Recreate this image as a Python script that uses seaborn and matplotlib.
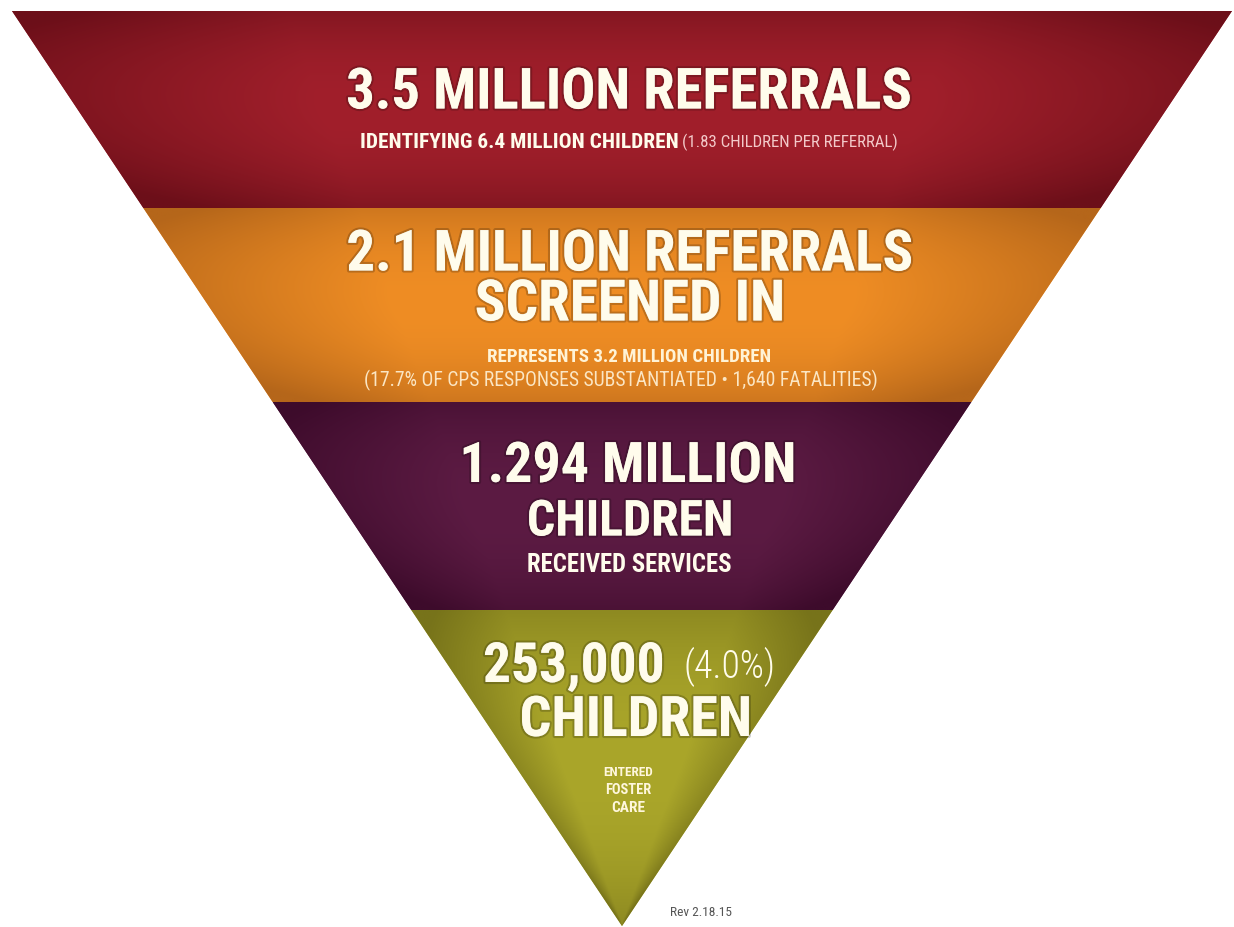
import numpy as np
import matplotlib
matplotlib.use("Agg")
import matplotlib.pyplot as plt
import matplotlib.patheffects as pe
import matplotlib.font_manager as fm
from matplotlib.patches import Polygon
import seaborn as sns

# ---------------- data ----------------
stages = ["Referrals", "Screened in", "Received services", "Entered foster care"]
values_millions = [3.5, 2.1, 1.294, 0.253]
headline_1 = ["3.5 MILLION REFERRALS", "2.1 MILLION REFERRALS", "1.294 MILLION", "253,000"]
headline_2 = ["", "SCREENED IN", "CHILDREN", "CHILDREN"]
sub_bold = ["IDENTIFYING 6.4 MILLION CHILDREN", "REPRESENTS 3.2 MILLION CHILDREN",
            "RECEIVED SERVICES", "ENTERED\nFOSTER\nCARE"]
sub_light = ["(1.83 CHILDREN PER REFERRAL)",
             "(17.7% OF CPS RESPONSES SUBSTANTIATED \u2022 1,640 FATALITIES)", "", ""]
pct_note = "(4.0%)"
footer = "Rev 2.18.15"
center_colors = ["#a11f2b", "#ef8d24", "#5c1b43", "#aaa62a"]
edge_colors = ["#6c0f19", "#b5661a", "#3d0b2b", "#77731a"]

# ---------------- font choice ----------------
sns.set_theme(style="white")
ttf = fm.fontManager.ttflist
fam_names = {f.name for f in ttf}
font_kw = {}
for cand in ["Roboto Condensed", "Liberation Sans Narrow", "Open Sans Condensed",
             "Noto Sans Condensed", "DejaVu Sans Condensed"]:
    if cand in fam_names:
        font_kw = {"family": [cand, "DejaVu Sans"]}
        break
if not font_kw:
    for base in ["Roboto", "Noto Sans", "Open Sans", "DejaVu Sans"]:
        hits = [f for f in ttf if f.name == base and str(f.stretch) in
                ("condensed", "semi-condensed", "extra-condensed", "ultra-condensed")]
        if hits:
            font_kw = {"family": [base, "DejaVu Sans"], "fontstretch": hits[0].stretch}
            break
if not font_kw:
    font_kw = {"family": ["DejaVu Sans"]}
plt.rcParams['font.family'] = font_kw["family"]

# ---------------- layout ----------------
W, H = 1234, 927
fig = plt.figure(figsize=(W / 100, H / 100), dpi=100)
ax = fig.add_axes([0, 0, 1, 1])
ax.set_xlim(0, W)
ax.set_ylim(H, 0)
ax.axis("off")

top_y, apex_y = 11, 926
left_x, right_x = 12, 1232
cx = (left_x + right_x) / 2
band_edges = [top_y, 208, 402, 610, apex_y]


def half_width(y):
    return (right_x - left_x) / 2 * (apex_y - y) / (apex_y - top_y)


def hex2rgb(h):
    return np.array(matplotlib.colors.to_rgb(h))


for i in range(len(stages)):
    y0, y1 = band_edges[i], band_edges[i + 1]
    w0, w1 = half_width(y0), half_width(y1)
    poly = [(cx - w0, y0), (cx + w0, y0), (cx + w1, y1), (cx - w1, y1)]
    patch = Polygon(poly, closed=True, facecolor=center_colors[i], edgecolor="none")
    ax.add_patch(patch)
    ny, nx = 120, 300
    yy, xx = np.mgrid[0:1:complex(0, ny), 0:1:complex(0, nx)]
    ys = y0 + yy * (y1 - y0)
    hw = np.maximum(half_width(ys), 1)
    xs = cx - w0 + xx * (2 * w0)
    dx = np.clip(np.abs(xs - cx) / hw, 0, 1.5)
    dy = np.abs(yy - 0.5) * 2
    t = np.clip(0.55 * dy ** 2.2 + 0.6 * np.clip(dx - 0.55, 0, None) / 0.45, 0, 1)
    c0, c1 = hex2rgb(center_colors[i]), hex2rgb(edge_colors[i])
    img = c0[None, None, :] * (1 - t[..., None]) + c1[None, None, :] * t[..., None]
    im = ax.imshow(img, extent=(cx - w0, cx + w0, y1, y0), origin="upper",
                   aspect="auto", interpolation="bilinear", zorder=2)
    im.set_clip_path(patch)

renderer = fig.canvas.get_renderer()
txt_color = "#fffcec"
glow = [pe.withStroke(linewidth=3, foreground=(0, 0, 0, 0.2))]
extra = {k: v for k, v in font_kw.items() if k != "family"}


def fit_text(x, y, s, width, size=30, weight="bold", color=txt_color, ha="center",
             effects=glow, **kw):
    t = ax.text(x, y, s, ha=ha, va="center", color=color, fontweight=weight,
                fontsize=size, zorder=5, **extra, **kw)
    bb = t.get_window_extent(renderer=renderer)
    t.set_fontsize(size * width / bb.width)
    if effects:
        t.set_path_effects(effects)
    return t


# band 1
fit_text(629, 93, headline_1[0], 565)
fit_text(360, 142, sub_bold[0], 318, ha="left", effects=None)
fit_text(682, 142, sub_light[0], 218, ha="left", weight="normal", color="#f3c9c9", effects=None)
# band 2
fit_text(630, 255, headline_1[1], 566)
fit_text(630, 305, headline_2[1], 310)
fit_text(629, 357, sub_bold[1], 282, effects=None, color="#fff3d6")
fit_text(621, 380, sub_light[1], 512, weight="normal", effects=None, color="#fbe6c4")
# band 3
fit_text(628, 467, headline_1[2], 337)
fit_text(630, 522, headline_2[2], 206)
fit_text(629, 565, sub_bold[2], 205, effects=None)
# band 4
fit_text(483, 667, headline_1[3], 182, ha="left")
fit_text(683, 667, pct_note, 92, ha="left", weight="light", effects=None)
fit_text(636, 721, headline_2[3], 232)
for j, line in enumerate(sub_bold[3].split("\n")):
    fit_text(628, 772 + 18 * j, line, [50, 46, 34][j], weight="bold",
             effects=None, color="#fff7dc")

fit_text(701, 913, footer, 62, weight="normal", color="#555555", effects=None)

fig.savefig("out.png", dpi=100, facecolor="white")
